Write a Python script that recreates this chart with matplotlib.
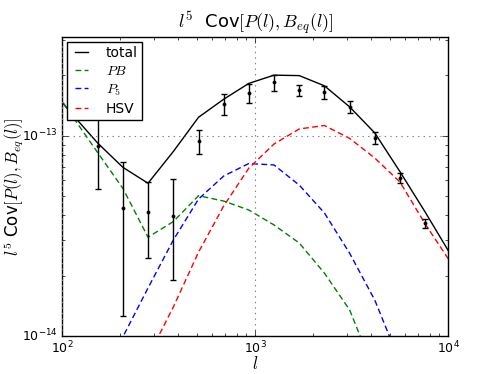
import matplotlib
matplotlib.use("Agg")
import matplotlib.pyplot as plt
import numpy as np

plt.style.use('classic')
plt.rcParams['mathtext.fontset'] = 'cm'
plt.rcParams['font.family'] = ['DejaVu Sans']

# multipole grid
ell = [84, 113, 153, 206, 278, 376, 508, 686, 926, 1250, 1689, 2280, 3080, 4160, 5618, 7590, 10250]

total = [1.78e-13, 1.27e-13, 9.14e-14, 6.94e-14, 5.78e-14, 8.32e-14, 1.233e-13, 1.517e-13, 1.82e-13,
         2.00e-13, 1.99e-13, 1.77e-13, 1.39e-13, 1.03e-13, 6.6e-14, 4.15e-14, 2.56e-14]
pb = [1.89e-13, 1.244e-13, 8.18e-14, 5.45e-14, 3.11e-14, 3.72e-14, 5.01e-14, 4.71e-14, 4.25e-14,
      3.58e-14, 2.91e-14, 2.06e-14, 1.35e-14, 6.6e-15, 2.7e-15, 1.0e-15, 3e-16]
p5 = [1.8e-15, 3.21e-15, 5.70e-15, 9.9e-15, 1.735e-14, 3.01e-14, 4.82e-14, 6.28e-14, 7.25e-14,
      7.13e-14, 5.66e-14, 4.11e-14, 2.59e-14, 1.51e-14, 7.4e-15, 3.0e-15, 1.08e-15]
hsv = [6e-16, 1.21e-15, 2.27e-15, 4.28e-15, 7.86e-15, 1.395e-14, 2.62e-14, 4.45e-14, 6.88e-14,
       9.07e-14, 1.078e-13, 1.122e-13, 9.68e-14, 7.72e-14, 5.86e-14, 3.62e-14, 2.34e-14]

# measured points
ell_data = ell[2:16]
y_data = [8.9e-14, 4.33e-14, 4.14e-14, 3.97e-14, 9.39e-14, 1.436e-13, 1.635e-13, 1.84e-13,
          1.686e-13, 1.643e-13, 1.392e-13, 9.75e-14, 6.12e-14, 3.65e-14]
y_err = [3.5e-14, 3.07e-14, 1.7e-14, 2.07e-14, 1.3e-14, 1.7e-14, 1.8e-14, 1.65e-14,
         1.1e-14, 1.15e-14, 0.97e-14, 0.65e-14, 0.35e-14, 0.19e-14]

fig = plt.figure(figsize=(4.98, 3.74), dpi=100, facecolor='white')
ax = fig.add_axes([62.3/498, 38/374, (448.3-62.3)/498, (336-37)/374])
ax.set_facecolor('white')

dash = (4.2, 2.4)
ax.plot(ell, total, 'k-', lw=1.0, label='total')
ax.plot(ell, pb, color='green', ls='--', dashes=dash, lw=1.0, label='$PB$')
ax.plot(ell, p5, color='blue', ls='--', dashes=dash, lw=1.0, label='$P_5$')
ax.plot(ell, hsv, color='red', ls='--', dashes=dash, lw=1.0, label='HSV')
ax.errorbar(ell_data, y_data, yerr=y_err, fmt='k.', ms=4.5, ecolor='black',
            elinewidth=1.0, capsize=2.5, capthick=1.0)

ax.set_xscale('log')
ax.set_yscale('log')
ax.set_xlim(100, 1e4)
ax.set_ylim(1e-14, 3.1e-13)
ax.grid(True, which='major', color='gray', ls=':', lw=0.8)

ax.tick_params(axis='both', which='major', labelsize=9, length=4, direction='in',
               top=True, right=True, pad=3)
ax.tick_params(axis='both', which='minor', length=2, direction='in', top=True, right=True)

ax.set_title(r'$l^5$  Cov$[P(l),B_{eq}(l)]$', fontsize=13, pad=7)
ax.set_xlabel(r'$l$', fontsize=12, labelpad=-1)
ax.set_ylabel(r'$l^5$ Cov$[P(l),B_{eq}(l)]$', fontsize=12)
ax.yaxis.set_label_coords(-0.093, 0.5)

leg = ax.legend(loc='upper left', fontsize=10, frameon=True, fancybox=False,
                handlelength=1.5, numpoints=2, borderaxespad=0.35, labelspacing=0.3,
                handletextpad=1.0, borderpad=0.3)
leg.get_frame().set_edgecolor('black')
leg.get_frame().set_linewidth(1.0)

fig.savefig('out.png', dpi=100, facecolor='white')
